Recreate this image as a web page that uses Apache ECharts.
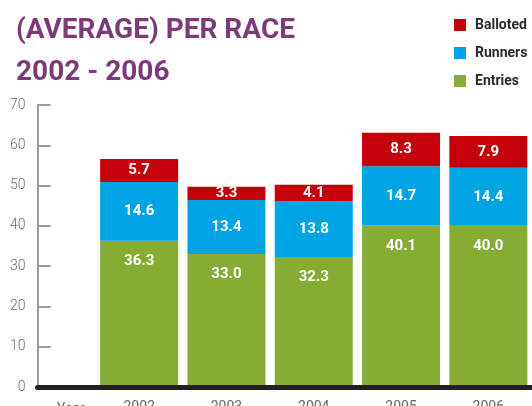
<!DOCTYPE html>
<html>
<head>
<meta charset="utf-8">
<script src="https://cdn.jsdelivr.net/npm/echarts@6/dist/echarts.min.js"></script>
<style>
  html, body { margin: 0; padding: 0; background: #fff; }
  #chart { width: 532px; height: 406px; }
</style>
</head>
<body>
<div id="chart"></div>
<script>
// Average field sizes per race, 2002 - 2006
const years = ['2002', '2003', '2004', '2005', '2006'];
const entries = [36.3, 33.0, 32.3, 40.1, 40.0];
const runners = [14.6, 13.4, 13.8, 14.7, 14.4];
const balloted = [5.7, 3.3, 4.1, 8.3, 7.9];
const yTicks = { min: 0, max: 70, step: 10 };

const RED = '#c4000b';
const BLUE = '#00a3e4';
const GREEN = '#86ac34';
const PURPLE = '#7d3a78';
const FONT = 'Roboto';

const chart = echarts.init(document.getElementById('chart'), null, { renderer: 'canvas' });

function segLabel(position) {
  return {
    show: true,
    position: position,
    distance: 13,
    color: '#fff',
    fontFamily: FONT,
    fontWeight: 'bold',
    fontSize: 15,
    formatter: p => p.value.toFixed(1)
  };
}

function stackSeries(name, data, color, labelPos) {
  return {
    name: name,
    type: 'bar',
    stack: 'total',
    xAxisIndex: 0,
    yAxisIndex: 0,
    data: data,
    barWidth: 78,
    itemStyle: { color: color },
    label: segLabel(labelPos),
    emphasis: { disabled: true }
  };
}

chart.setOption({
  animation: false,
  title: [
    {
      text: '(AVERAGE) PER RACE\n2002 - 2006',
      left: 11,
      top: 5,
      textStyle: {
        color: PURPLE,
        fontFamily: FONT,
        fontWeight: 'bold',
        fontSize: 28,
        lineHeight: 42
      }
    },
    {
      text: 'Year',
      left: 52,
      top: 397,
      textStyle: { color: '#666', fontFamily: FONT, fontWeight: 'normal', fontSize: 14 }
    }
  ],
  legend: {
    orient: 'vertical',
    left: 449,
    top: 13,
    itemWidth: 12,
    itemHeight: 12,
    itemGap: 14,
    icon: 'rect',
    data: ['Balloted', 'Runners', 'Entries'],
    textStyle: {
      color: '#2b2b2b',
      fontFamily: FONT,
      fontWeight: 'bold',
      fontSize: 14,
      padding: [0, 0, 0, 4]
    }
  },
  grid: [
    { left: 95.5, right: 0, top: 105, bottom: 19, outerBoundsMode: 'none' },
    { left: 37.5, right: 0, top: 105, bottom: 19, outerBoundsMode: 'none' }
  ],
  xAxis: [
    {
      gridIndex: 0,
      type: 'category',
      data: years,
      axisLine: { show: false },
      axisTick: { show: false },
      axisLabel: { color: '#666', fontFamily: FONT, fontSize: 14, margin: 13 }
    },
    {
      gridIndex: 1,
      type: 'value',
      min: 0,
      max: 1,
      z: 5,
      axisLine: { show: true, onZero: false, lineStyle: { color: '#231f20', width: 5 } },
      axisTick: { show: false },
      axisLabel: { show: false },
      splitLine: { show: false }
    }
  ],
  yAxis: [
    {
      gridIndex: 0,
      type: 'value',
      min: yTicks.min,
      max: yTicks.max,
      interval: yTicks.step,
      show: false
    },
    {
      gridIndex: 1,
      type: 'value',
      min: yTicks.min,
      max: yTicks.max,
      interval: yTicks.step,
      axisLine: { show: true, lineStyle: { color: '#9a9a9a', width: 2 } },
      axisTick: { show: true, inside: true, length: 13, lineStyle: { color: '#9a9a9a', width: 2 } },
      axisLabel: { color: '#6e6e6e', fontFamily: FONT, fontWeight: 300, fontSize: 14, margin: 12 },
      splitLine: { show: false }
    }
  ],
  series: [
    stackSeries('Entries', entries, GREEN, 'insideTop'),
    stackSeries('Runners', runners, BLUE, 'inside'),
    stackSeries('Balloted', balloted, RED, 'inside')
  ]
});
</script>
</body>
</html>
